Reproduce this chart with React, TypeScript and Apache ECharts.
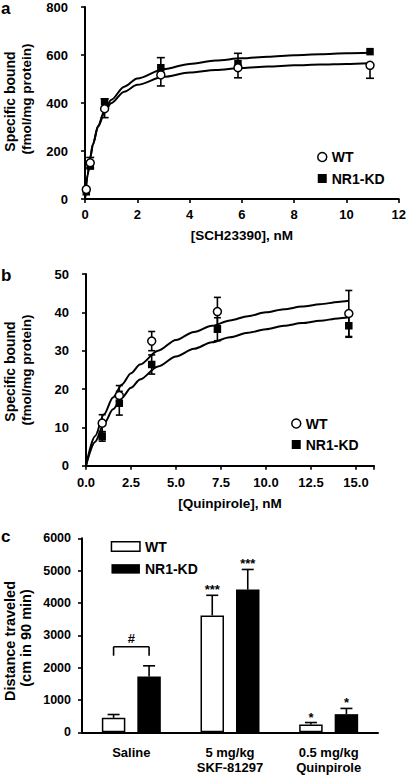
import React, { useEffect, useRef } from "react";
import * as echarts from "echarts";

// ---------- Panel a: [SCH23390] saturation binding ----------
const aConc = [0.05, 0.2, 0.75, 2.9, 5.85, 10.9];
const aWT = [40, 151, 376, 517, 547, 557];
const aWTErrLow = [0, 22, 37, 46, 42, 54];
const aWTErrHigh = [0, 22, 0, 0, 0, 0];
const aKD = [30, 137, 405, 547, 564, 614];
const aKDErrLow = [0, 0, 0, 0, 0, 0];
const aKDErrHigh = [0, 0, 12, 42, 43, 0];
const aFitX = [0, 0.1, 0.2, 0.3, 0.5, 0.75, 1, 1.5, 2, 3, 4, 5, 6, 7, 8, 9, 10, 10.9];
const aFitWT = [0, 102, 174, 227, 301, 360, 399, 447, 476, 509, 527, 538, 546, 552, 557, 560, 563, 566];
const aFitKD = [0, 98, 171, 226, 305, 369, 413, 468, 502, 541, 563, 577, 586, 593, 599, 603, 607, 609];

// ---------- Panel b: [Quinpirole] saturation binding ----------
const bConc = [0.9, 1.85, 3.65, 7.3, 14.6];
const bWT = [11.1, 18.3, 32.5, 40.2, 39.7];
const bWTErr = [2.2, 2.6, 2.5, 3.7, 6.0];
const bKD = [7.6, 16.3, 26.4, 35.6, 36.5];
const bKDErr = [1.2, 3.1, 2.5, 3.0, 3.0];
const bFitX = [0, 0.5, 1, 1.5, 2, 2.5, 3, 4, 5, 6, 7, 8, 9, 10, 11, 12, 13, 14, 14.6];
const bFitWT = [0, 7.7, 13.4, 17.8, 21.2, 24.1, 26.4, 30.0, 32.8, 34.9, 36.5, 37.9, 39.0, 40.0, 40.8, 41.5, 42.1, 42.7, 43.0];
const bFitKD = [0, 6.2, 10.9, 14.7, 17.8, 20.3, 22.5, 25.9, 28.5, 30.5, 32.2, 33.5, 34.7, 35.6, 36.5, 37.2, 37.8, 38.4, 38.7];

// ---------- Panel c: locomotion ----------
const cCategories = ["Saline", "5 mg/kg\nSKF-81297", "0.5 mg/kg\nQuinpirole"];
const cWT = [447, 3614, 240];
const cWTErr = [103, 623, 62];
const cKD = [1724, 4413, 561];
const cKDErr = [332, 623, 177];
const cWTSig = ["", "***", "*"];
const cKDSig = ["", "***", "*"];
const cBracket = { from: 0, top: 2648, bottom: 2368, label: "#" };

const FONT = "'Liberation Sans', Arial, Helvetica, sans-serif";
const BAR_W = 23.5;
const BAR_GAP = 12;

function pointErr(xs: number[], ys: number[], lo: number[], hi: number[]) {
  return xs.map((x, i) => [x, ys[i] - lo[i], ys[i] + hi[i], ys[i]]);
}

function errRender(capW: number) {
  return (params: any, api: any) => {
    const x = api.value(0);
    const lo = api.value(1);
    const hi = api.value(2);
    const mid = api.value(3);
    if (hi - lo <= 0) return { type: "group", children: [] };
    const pLo = api.coord([x, lo]);
    const pHi = api.coord([x, hi]);
    const st = { stroke: "#000", lineWidth: 1.6 };
    const children: any[] = [
      { type: "line", shape: { x1: pLo[0], y1: pLo[1], x2: pHi[0], y2: pHi[1] }, style: st },
    ];
    if (hi > mid)
      children.push({ type: "line", shape: { x1: pHi[0] - capW / 2, y1: pHi[1], x2: pHi[0] + capW / 2, y2: pHi[1] }, style: st });
    if (lo < mid)
      children.push({ type: "line", shape: { x1: pLo[0] - capW / 2, y1: pLo[1], x2: pLo[0] + capW / 2, y2: pLo[1] }, style: st });
    return { type: "group", children };
  };
}

function barErrRender(sign: number, sigs: string[]) {
  return (params: any, api: any) => {
    const cat = api.value(0);
    const v = api.value(1);
    const e = api.value(2);
    const sig = sigs[params.dataIndex];
    const off = sign * (BAR_W / 2 + BAR_GAP / 2);
    const p0 = api.coord([cat, v]);
    const p1 = api.coord([cat, v + e]);
    const x = p0[0] + off;
    const st = { stroke: "#000", lineWidth: 1.6 };
    const children: any[] = [
      { type: "line", shape: { x1: x, y1: p0[1], x2: x, y2: p1[1] }, style: st },
      { type: "line", shape: { x1: x - 6, y1: p1[1], x2: x + 6, y2: p1[1] }, style: st },
    ];
    if (sig)
      children.push({
        type: "text",
        style: { text: sig, x, y: p1[1] + 1, align: "center", verticalAlign: "bottom", font: `bold 13px ${FONT}`, fill: "#000" },
      });
    return { type: "group", children };
  };
}

function bracketRender(params: any, api: any) {
  const cat = api.value(0);
  const top = api.coord([cat, api.value(1)]);
  const bot = api.coord([cat, api.value(2)]);
  const off = BAR_W / 2 + BAR_GAP / 2;
  const xl = top[0] - off;
  const xr = top[0] + off;
  const st = { stroke: "#000", lineWidth: 1.6 };
  return {
    type: "group",
    children: [
      { type: "line", shape: { x1: xl, y1: bot[1], x2: xl, y2: top[1] }, style: st },
      { type: "line", shape: { x1: xl, y1: top[1], x2: xr, y2: top[1] }, style: st },
      { type: "line", shape: { x1: xr, y1: top[1], x2: xr, y2: bot[1] }, style: st },
      {
        type: "text",
        style: { text: cBracket.label, x: (xl + xr) / 2, y: top[1] - 2, align: "center", verticalAlign: "bottom", font: `bold 13px ${FONT}`, fill: "#000" },
      },
    ],
  };
}

const axisLine = { show: true, lineStyle: { color: "#000", width: 2 } };
const axisTick = { show: true, length: 4, lineStyle: { color: "#000", width: 1.6 } };
const lbl = (size: number, margin: number, extra: any = {}) => ({
  color: "#000",
  fontFamily: FONT,
  fontWeight: "bold",
  fontSize: size,
  margin,
  ...extra,
});

export default function App() {
  const ref = useRef<HTMLDivElement>(null);
  useEffect(() => {
    if (!ref.current) return;
    const chart = echarts.init(ref.current, null, { renderer: "svg" });
    const circleStyle = { color: "#fff", borderColor: "#000", borderWidth: 1.5, opacity: 1 };
    const squareStyle = { color: "#000", opacity: 1 };
    const legendText = { color: "#000", fontFamily: FONT, fontWeight: "bold", fontSize: 14, lineHeight: 16 };

    const option: any = {
      animation: false,
      backgroundColor: "#fff",
      grid: [
        { left: 85, top: 7, width: 316, height: 192 },
        { left: 86, top: 274, width: 288, height: 191.7 },
        { left: 82, top: 538.3, width: 296, height: 194 },
      ],
      xAxis: [
        {
          gridIndex: 0, type: "value", min: 0, max: 12, interval: 2,
          axisLine, axisTick, splitLine: { show: false },
          axisLabel: lbl(13, 9),
          name: "[SCH23390], nM", nameLocation: "middle", nameGap: 29,
          nameTextStyle: { color: "#000", fontFamily: FONT, fontWeight: "bold", fontSize: 13.5 },
        },
        {
          gridIndex: 1, type: "value", min: 0, max: 16, interval: 2.5,
          axisLine, axisTick, splitLine: { show: false },
          axisLabel: lbl(13, 10, { formatter: (v: number) => (v > 15 ? "" : v.toFixed(1)) }),
          name: "[Quinpirole], nM", nameLocation: "middle", nameGap: 31,
          nameTextStyle: { color: "#000", fontFamily: FONT, fontWeight: "bold", fontSize: 13.5 },
        },
        {
          gridIndex: 2, type: "category", data: cCategories,
          axisLine, axisTick: { show: false }, splitLine: { show: false },
          axisLabel: lbl(13, 12, { lineHeight: 15.5 }),
        },
      ],
      yAxis: [
        {
          gridIndex: 0, type: "value", min: 0, max: 800, interval: 200,
          axisLine, axisTick, splitLine: { show: false }, axisLabel: lbl(13, 17),
        },
        {
          gridIndex: 1, type: "value", min: 0, max: 50, interval: 10,
          axisLine, axisTick, splitLine: { show: false }, axisLabel: lbl(13, 17),
        },
        {
          gridIndex: 2, type: "value", min: 0, max: 6000, interval: 1000,
          axisLine, axisTick, splitLine: { show: false },
          axisLabel: lbl(12.5, 11, { formatter: (v: number) => String(v) }),
        },
      ],
      legend: [
        {
          left: 312, top: 144, orient: "vertical", itemWidth: 9, itemHeight: 9, itemGap: 5.5,
          textStyle: legendText, selectedMode: false,
          data: [
            { name: "WT", icon: "circle", itemStyle: circleStyle },
            { name: "NR1-KD", icon: "rect", itemStyle: squareStyle },
          ],
        },
        {
          left: 286, top: 410.5, orient: "vertical", itemWidth: 9, itemHeight: 9, itemGap: 5,
          textStyle: legendText, selectedMode: false,
          data: [
            { name: "WT", icon: "circle", itemStyle: circleStyle },
            { name: "NR1-KD", icon: "rect", itemStyle: squareStyle },
          ],
        },
        {
          left: 105.7, top: 533.5, orient: "vertical", itemWidth: 28.5, itemHeight: 9.5, itemGap: 6.4,
          textStyle: legendText, selectedMode: false,
          data: [
            { name: "WT", icon: "rect", itemStyle: { color: "#fff", borderColor: "#000", borderWidth: 1.5 } },
            { name: "NR1-KD", icon: "rect", itemStyle: { color: "#000" } },
          ],
        },
      ],
      series: [
        // ---- a ----
        {
          name: "fitWT_a", type: "line", xAxisIndex: 0, yAxisIndex: 0, showSymbol: false, smooth: 0.3, smoothMonotone: "x",
          data: aFitX.map((x, i) => [x, aFitWT[i]]), lineStyle: { color: "#000", width: 2 }, z: 2,
        },
        {
          name: "fitKD_a", type: "line", xAxisIndex: 0, yAxisIndex: 0, showSymbol: false, smooth: 0.3, smoothMonotone: "x",
          data: aFitX.map((x, i) => [x, aFitKD[i]]), lineStyle: { color: "#000", width: 2 }, z: 2,
        },
        {
          name: "errWT_a", type: "custom", xAxisIndex: 0, yAxisIndex: 0, renderItem: errRender(8),
          data: pointErr(aConc, aWT, aWTErrLow, aWTErrHigh), z: 3,
        },
        {
          name: "errKD_a", type: "custom", xAxisIndex: 0, yAxisIndex: 0, renderItem: errRender(8),
          data: pointErr(aConc, aKD, aKDErrLow, aKDErrHigh), z: 3,
        },
        {
          name: "NR1-KD", type: "scatter", xAxisIndex: 0, yAxisIndex: 0, symbol: "rect", symbolSize: 7.5,
          itemStyle: squareStyle, data: aConc.map((x, i) => [x, aKD[i]]), z: 4,
        },
        {
          name: "WT", type: "scatter", xAxisIndex: 0, yAxisIndex: 0, symbol: "circle", symbolSize: 8,
          itemStyle: circleStyle, data: aConc.map((x, i) => [x, aWT[i]]), z: 5,
        },
        // ---- b ----
        {
          name: "fitWT_b", type: "line", xAxisIndex: 1, yAxisIndex: 1, showSymbol: false, smooth: 0.3, smoothMonotone: "x",
          data: bFitX.map((x, i) => [x, bFitWT[i]]), lineStyle: { color: "#000", width: 2 }, z: 2,
        },
        {
          name: "fitKD_b", type: "line", xAxisIndex: 1, yAxisIndex: 1, showSymbol: false, smooth: 0.3, smoothMonotone: "x",
          data: bFitX.map((x, i) => [x, bFitKD[i]]), lineStyle: { color: "#000", width: 2 }, z: 2,
        },
        {
          name: "errWT_b", type: "custom", xAxisIndex: 1, yAxisIndex: 1, renderItem: errRender(7),
          data: pointErr(bConc, bWT, bWTErr, bWTErr), z: 3,
        },
        {
          name: "errKD_b", type: "custom", xAxisIndex: 1, yAxisIndex: 1, renderItem: errRender(7),
          data: pointErr(bConc, bKD, bKDErr, bKDErr), z: 3,
        },
        {
          name: "NR1-KD", type: "scatter", xAxisIndex: 1, yAxisIndex: 1, symbol: "rect", symbolSize: 7.5,
          itemStyle: squareStyle, data: bConc.map((x, i) => [x, bKD[i]]), z: 4,
        },
        {
          name: "WT", type: "scatter", xAxisIndex: 1, yAxisIndex: 1, symbol: "circle", symbolSize: 8,
          itemStyle: circleStyle, data: bConc.map((x, i) => [x, bWT[i]]), z: 5,
        },
        // ---- c ----
        {
          name: "WT", type: "bar", xAxisIndex: 2, yAxisIndex: 2, barWidth: BAR_W, barGap: "51%",
          itemStyle: { color: "#ffffff", borderColor: "#000", borderWidth: 1.5, opacity: 1 }, data: cWT, z: 2,
        },
        {
          name: "NR1-KD", type: "bar", xAxisIndex: 2, yAxisIndex: 2, barWidth: BAR_W,
          itemStyle: { color: "#000", opacity: 1 }, data: cKD, z: 2,
        },
        {
          name: "errWT_c", type: "custom", xAxisIndex: 2, yAxisIndex: 2, renderItem: barErrRender(-1, cWTSig),
          data: cCategories.map((_, i) => [i, cWT[i], cWTErr[i]]), z: 3,
        },
        {
          name: "errKD_c", type: "custom", xAxisIndex: 2, yAxisIndex: 2, renderItem: barErrRender(1, cKDSig),
          data: cCategories.map((_, i) => [i, cKD[i], cKDErr[i]]), z: 3,
        },
        {
          name: "bracket_c", type: "custom", xAxisIndex: 2, yAxisIndex: 2, renderItem: bracketRender,
          data: [[cBracket.from, cBracket.top, cBracket.bottom]], z: 3,
        },
      ],
      graphic: [
        { type: "text", left: 1, top: 0, style: { text: "a", font: `bold 17px ${FONT}`, fill: "#000" } },
        { type: "text", left: 1, top: 267, style: { text: "b", font: `bold 17px ${FONT}`, fill: "#000" } },
        { type: "text", left: 1, top: 528, style: { text: "c", font: `bold 17px ${FONT}`, fill: "#000" } },
        {
          type: "text", x: 10, y: 101.5, rotation: Math.PI / 2,
          style: { text: "Specific bound", font: `bold 14px ${FONT}`, fill: "#000", align: "center", verticalAlign: "middle" },
        },
        {
          type: "text", x: 26, y: 99, rotation: Math.PI / 2,
          style: { text: "(fmol/mg protein)", font: `bold 13.5px ${FONT}`, fill: "#000", align: "center", verticalAlign: "middle" },
        },
        {
          type: "text", x: 10, y: 371.5, rotation: Math.PI / 2,
          style: { text: "Specific bound", font: `bold 14px ${FONT}`, fill: "#000", align: "center", verticalAlign: "middle" },
        },
        {
          type: "text", x: 26, y: 370, rotation: Math.PI / 2,
          style: { text: "(fmol/mg protein)", font: `bold 13.5px ${FONT}`, fill: "#000", align: "center", verticalAlign: "middle" },
        },
        {
          type: "text", x: 9.5, y: 641, rotation: Math.PI / 2,
          style: { text: "Distance traveled", font: `bold 14.5px ${FONT}`, fill: "#000", align: "center", verticalAlign: "middle" },
        },
        {
          type: "text", x: 25.5, y: 638, rotation: Math.PI / 2,
          style: { text: "(cm in 90 min)", font: `bold 14.5px ${FONT}`, fill: "#000", align: "center", verticalAlign: "middle" },
        },
      ],
    };
    chart.setOption(option);
    return () => chart.dispose();
  }, []);
  return <div ref={ref} style={{ width: 409, height: 777, position: "absolute", left: 0, top: 0 }} />;
}
